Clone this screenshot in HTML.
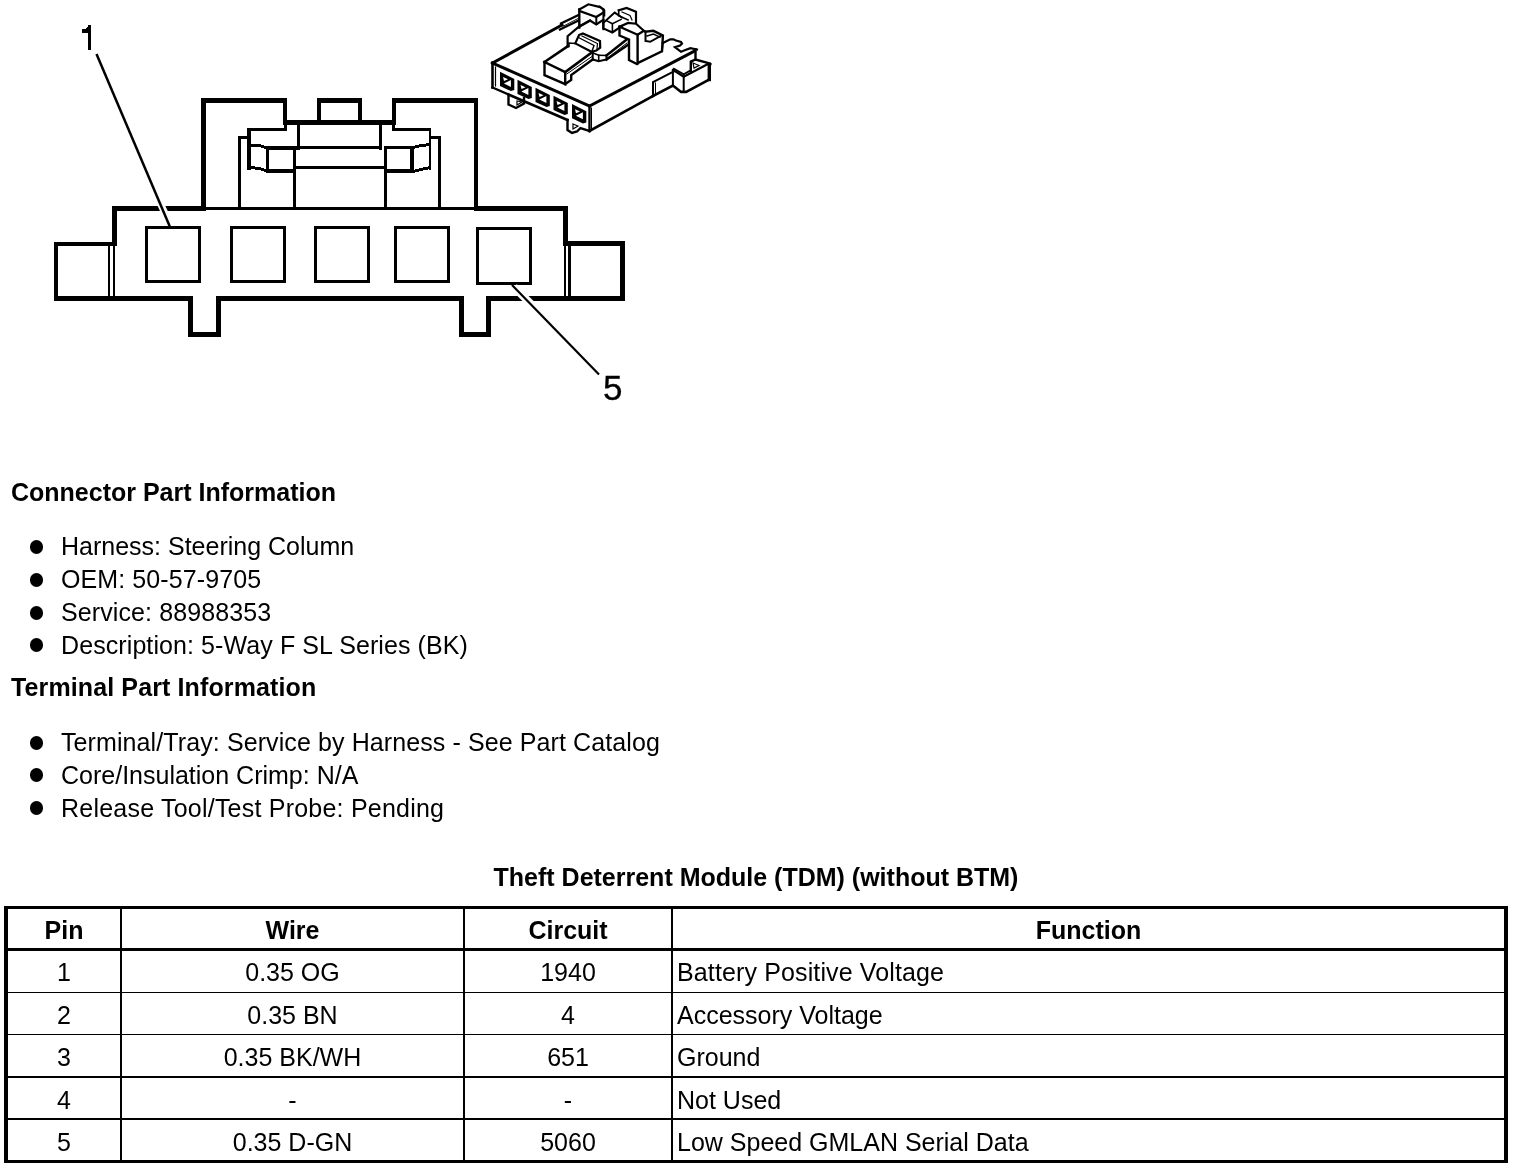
<!DOCTYPE html>
<html><head><meta charset="utf-8">
<style>
html,body{margin:0;padding:0;background:#fff;}
body{width:1520px;height:1168px;position:relative;overflow:hidden;-webkit-font-smoothing:antialiased;font-family:"Liberation Sans",sans-serif;color:#000;}
.t{position:absolute;white-space:nowrap;font-size:25px;line-height:normal;will-change:transform;}
.b{font-weight:bold;}
.c{text-align:center;}
.dot{position:absolute;width:13.5px;height:13.5px;border-radius:50%;background:#000;left:29.8px;}
.ln{position:absolute;background:#000;}
svg{position:absolute;left:0;top:0;}
</style></head><body>

<!-- DRAWING -->
<svg id="face" width="720" height="420" viewBox="0 0 720 420">
<g shape-rendering="crispEdges" fill="#000">
<rect x="201" y="98" width="5" height="113"/>
<rect x="201" y="98" width="86" height="5"/>
<rect x="283" y="98" width="4" height="27"/>
<rect x="283" y="120" width="113" height="5"/>
<rect x="317" y="98" width="4" height="27"/>
<rect x="317" y="98" width="45" height="5"/>
<rect x="358" y="98" width="4" height="27"/>
<rect x="392" y="98" width="4" height="27"/>
<rect x="392" y="98" width="86" height="5"/>
<rect x="474" y="98" width="4" height="113"/>
<rect x="284" y="123" width="3" height="8"/>
<rect x="247" y="128" width="40" height="3"/>
<rect x="247" y="128" width="4" height="42"/>
<rect x="238" y="136" width="13" height="3"/>
<rect x="238" y="136" width="3" height="74"/>
<rect x="266" y="146" width="31" height="4"/>
<rect x="266" y="146" width="3" height="27"/>
<rect x="266" y="169" width="29" height="4"/>
<rect x="293" y="146" width="3" height="64"/>
<rect x="297" y="124" width="3" height="26"/>
<rect x="297" y="146" width="85" height="3"/>
<rect x="379" y="124" width="3" height="26"/>
<rect x="296" y="166" width="89" height="3"/>
<rect x="384" y="146" width="3" height="64"/>
<rect x="384" y="146" width="30" height="3"/>
<rect x="410" y="146" width="4" height="27"/>
<rect x="384" y="169" width="30" height="4"/>
<rect x="429" y="128" width="2" height="42"/>
<rect x="392" y="128" width="39" height="3"/>
<rect x="392" y="123" width="3" height="8"/>
<rect x="438" y="136" width="3" height="74"/>
<rect x="430" y="136" width="11" height="3"/>
<rect x="112" y="206" width="94" height="5"/>
<rect x="205" y="207" width="273" height="3"/>
<rect x="477" y="206" width="91" height="5"/>
<rect x="112" y="206" width="5" height="40"/>
<rect x="54" y="242" width="63" height="4"/>
<rect x="54" y="242" width="4" height="59"/>
<rect x="54" y="296" width="139" height="5"/>
<rect x="188" y="296" width="5" height="41"/>
<rect x="188" y="332" width="33" height="5"/>
<rect x="216" y="296" width="5" height="41"/>
<rect x="216" y="296" width="248" height="5"/>
<rect x="459" y="296" width="5" height="41"/>
<rect x="459" y="332" width="32" height="5"/>
<rect x="486" y="296" width="5" height="41"/>
<rect x="486" y="296" width="139" height="5"/>
<rect x="563" y="206" width="5" height="40"/>
<rect x="563" y="241" width="62" height="5"/>
<rect x="620" y="241" width="5" height="60"/>
<rect x="108" y="245" width="2" height="52"/>
<rect x="113" y="245" width="2" height="52"/>
<rect x="564" y="245" width="2" height="52"/>
<rect x="568" y="245" width="3" height="52"/>
<rect x="146.5" y="227.5" width="53" height="54" fill="none" stroke="#000" stroke-width="3"/>
<rect x="231.5" y="227.5" width="53" height="54" fill="none" stroke="#000" stroke-width="3"/>
<rect x="315.5" y="227.5" width="53" height="54" fill="none" stroke="#000" stroke-width="3"/>
<rect x="395.5" y="227.5" width="53" height="54" fill="none" stroke="#000" stroke-width="3"/>
<rect x="477.5" y="228.5" width="53" height="55" fill="none" stroke="#000" stroke-width="3"/>
<polygon points="251,144 259,144 266,146 266,149 259,147 251,147"/>
<polygon points="251,166 259,167 266,169 266,172 259,170 251,169"/>
<polygon points="413,146 421,144 430,143 430,146 421,147 413,149"/>
<polygon points="413,170 421,168 430,166 430,169 421,171 413,173"/>

</g>
<g shape-rendering="auto">
<line x1="155" y1="192" x2="169" y2="222" stroke="#fff" stroke-width="7"/>
<line x1="96.5" y1="54" x2="170" y2="227" stroke="#000" stroke-width="2.5"/>
<line x1="514" y1="287" x2="537" y2="310" stroke="#fff" stroke-width="8"/>
<line x1="512" y1="285" x2="599" y2="374.5" stroke="#000" stroke-width="2.2"/>
</g>
<g id="iso"><g fill="none" stroke="#000" stroke-linejoin="miter" stroke-linecap="square">
<polyline points="492.5,63.0 589.5,106.0" stroke-width="3"/>
<polyline points="492.5,63.0 492.5,87.5" stroke-width="2.6"/>
<polyline points="495.5,67.0 495.5,86.0" stroke-width="1.2"/>
<polyline points="492.5,87.5 508.5,94.5 508.5,104.5 516.0,108.0 524.0,103.5 524.0,98.0" stroke-width="2.4"/>
<polyline points="508.5,94.5 567.5,120.0" stroke-width="2.6"/>
<polyline points="567.5,120.0 567.5,130.0 572.0,133.0 577.0,131.5 580.5,128.0 589.5,131.0" stroke-width="2.4"/>
<polyline points="589.5,106.0 589.5,131.0" stroke-width="2.4"/>
<polyline points="591.5,108.0 591.5,129.0" stroke-width="1.0"/>
<polygon points="517.0,101.0 522.0,102.0 517.0,105.0" stroke-width="1.2"/>
<polygon points="573.0,124.0 578.0,126.0 573.0,129.0" stroke-width="1.2"/>
<polygon points="500.0,71.7 514.3,78.9 514.3,90.1 511.0,91.1 500.0,86.0" fill="#000" stroke="none"/>
<polygon points="503.9,83.5 510.9,80.0 510.9,87.0" fill="#fff" stroke="none"/>
<polygon points="503.0,77.0 508.0,79.3 504.0,81.0" fill="#fff" stroke="none"/>
<polygon points="517.5,79.7 531.8,86.9 531.8,98.1 528.5,99.1 517.5,94.0" fill="#000" stroke="none"/>
<polygon points="521.4,91.5 528.4,88.0 528.4,95.0" fill="#fff" stroke="none"/>
<polygon points="520.5,85.0 525.5,87.3 521.5,89.0" fill="#fff" stroke="none"/>
<polygon points="535.5,87.7 549.8,94.9 549.8,106.1 546.5,107.1 535.5,102.0" fill="#000" stroke="none"/>
<polygon points="539.4,99.5 546.4,96.0 546.4,103.0" fill="#fff" stroke="none"/>
<polygon points="538.5,93.0 543.5,95.3 539.5,97.0" fill="#fff" stroke="none"/>
<polygon points="553.5,95.7 567.8,102.9 567.8,114.1 564.5,115.1 553.5,110.0" fill="#000" stroke="none"/>
<polygon points="557.4,107.5 564.4,104.0 564.4,111.0" fill="#fff" stroke="none"/>
<polygon points="556.5,101.0 561.5,103.3 557.5,105.0" fill="#fff" stroke="none"/>
<polygon points="572.0,104.0 586.3,111.2 586.3,122.4 583.0,123.4 572.0,118.3" fill="#000" stroke="none"/>
<polygon points="575.9,115.8 582.9,112.3 582.9,119.3" fill="#fff" stroke="none"/>
<polygon points="575.0,109.3 580.0,111.6 576.0,113.3" fill="#fff" stroke="none"/>
<polyline points="589.5,106.0 694.5,51.0" stroke-width="3"/>
<polyline points="589.5,131.0 653.0,96.0" stroke-width="2.6"/>
<polyline points="653.0,96.0 653.0,82.0 673.5,71.5" stroke-width="2.0"/>
<polyline points="655.5,95.0 655.5,83.0" stroke-width="1.0"/>
<polyline points="653.0,96.0 672.9,85.5 681.1,91.9 686.2,91.9 709.3,79.5" stroke-width="2.6"/>
<polyline points="709.3,64.1 709.3,79.5" stroke-width="3.4"/>
<polyline points="672.9,70.3 672.9,86.0" stroke-width="2.0"/>
<polyline points="683.7,75.5 683.7,91.0" stroke-width="2.0"/>
<polyline points="673.0,70.0 683.7,76.8 707.0,64.5" stroke-width="2.2"/>
<polyline points="674.0,68.8 683.7,74.3 690.8,70.3" stroke-width="1.8"/>
<polyline points="690.8,71.0 690.8,61.6 695.5,59.5 706.8,62.6 710.4,64.1" stroke-width="2.4"/>
<polygon points="693.0,63.0 699.0,65.5 694.0,68.0" stroke-width="1.2"/>
<polyline points="695.5,49.2 695.5,59.5" stroke-width="2.4"/>
<polyline points="697.0,49.5 690.4,48.2 684.7,50.3 681.0,51.8 675.0,47.2 680.0,45.6 682.0,43.6 681.0,42.0 676.0,40.5 673.4,39.3 670.3,39.3 662.8,43.1" stroke-width="2.2"/>
<polyline points="492.5,63.0 562.0,25.0" stroke-width="3"/>
<polyline points="561.0,25.0 561.0,23.5 578.5,15.0" stroke-width="2.4"/>
<polyline points="560.0,29.5 578.5,20.5" stroke-width="2.4"/>
<polyline points="563.0,26.3 578.0,18.5" stroke-width="0.9"/>
<polyline points="579.3,9.5 579.3,27.6" stroke-width="2.4"/>
<polyline points="579.3,9.5 588.4,4.3 600.2,7.1 603.4,9.5" stroke-width="2.2"/>
<polyline points="580.5,11.4 596.3,17.0 603.4,12.6" stroke-width="2.2"/>
<polyline points="596.3,17.0 596.3,23.7" stroke-width="2.0"/>
<polyline points="580.0,26.0 590.0,20.5 596.3,24.5 603.4,19.7" stroke-width="2.2"/>
<polyline points="603.4,9.5 603.4,29.2" stroke-width="2.0"/>
<polyline points="599.7,6.3 604.5,10.3 604.5,15.8" stroke-width="1.6"/>
<polyline points="603.3,22.9 603.3,28.4 612.4,32.4 621.8,26.0" stroke-width="2.2"/>
<polyline points="603.3,22.9 614.7,12.6 621.8,17.4" stroke-width="2.0"/>
<polyline points="607.0,21.0 612.4,23.7 612.4,31.6" stroke-width="1.6"/>
<polyline points="612.4,23.7 621.0,19.5" stroke-width="1.6"/>
<polyline points="618.7,10.3 626.6,7.9 636.0,11.8 636.0,22.9" stroke-width="2.2"/>
<polyline points="618.7,10.3 618.7,15.8 628.0,20.0" stroke-width="1.6"/>
<polyline points="622.0,12.0 630.0,15.5 632.0,20.0" stroke-width="1.2"/>
<polyline points="619.5,26.8 628.1,22.9 636.0,23.7 643.9,30.8 637.6,34.7 619.5,26.8" stroke-width="2.2"/>
<polyline points="619.5,26.8 619.5,35.5 629.0,39.5 629.0,60.0 636.8,64.0" stroke-width="2.4"/>
<polyline points="637.6,34.7 637.6,63.5" stroke-width="2.4"/>
<polyline points="643.9,30.8 645.5,31.6 645.5,41.0 650.2,41.8 661.3,35.5" stroke-width="2.0"/>
<polyline points="645.5,31.6 653.4,30.8 662.9,35.5 662.0,51.3 639.2,62.4" stroke-width="2.4"/>
<polyline points="647.0,36.0 653.4,34.0 660.0,37.0" stroke-width="1.4"/>
<polyline points="662.0,51.3 663.0,42.6" stroke-width="1.6"/>
<polyline points="544.5,62.0 565.2,72.1 565.2,84.1 544.5,75.1 544.5,62.0" stroke-width="2.4"/>
<polyline points="544.5,62.0 567.6,46.4" stroke-width="2.6"/>
<polyline points="567.6,46.4 567.6,36.2 578.3,27.2 590.0,20.5" stroke-width="2.2"/>
<polyline points="565.2,72.1 590.3,53.5" stroke-width="2.6"/>
<polyline points="566.8,74.0 592.0,56.5" stroke-width="1.0"/>
<polyline points="565.2,84.1 571.2,79.9 571.2,75.1 592.7,59.5" stroke-width="2.4"/>
<polyline points="592.7,53.5 592.7,59.5 598.7,61.3 606.5,59.5 606.5,55.5" stroke-width="2.0"/>
<polyline points="592.0,52.5 598.7,55.3 598.7,61.3" stroke-width="1.6"/>
<polyline points="598.7,55.3 606.5,55.5" stroke-width="1.4"/>
<polyline points="606.5,55.5 626.3,39.8" stroke-width="2.6"/>
<polyline points="607.5,58.0 627.0,43.0" stroke-width="1.0"/>
<polyline points="606.5,59.5 627.5,45.2" stroke-width="2.4"/>
<polyline points="575.3,43.4 579.0,35.0 582.8,33.5 600.0,41.0 600.2,47.6 596.3,50.6 591.5,51.8 575.3,43.4" stroke-width="2.2"/>
<polyline points="582.0,36.0 597.5,43.5 597.0,48.5" stroke-width="1.2"/>
<polyline points="579.5,38.0 594.0,45.5 592.0,51.0" stroke-width="1.4"/>
<polyline points="567.6,46.4 569.0,46.4 569.0,43.0 575.3,43.4" stroke-width="1.6"/>
</g>
</g>
</svg>

<!-- LABELS -->
<svg width="120" height="60" style="left:0;top:0"><polygon points="81.9,29 85.7,29 88,26.5 88,25 91,25 91,49.5 88,49.5 88,32.8 81.9,32.8" fill="#000" shape-rendering="crispEdges"/></svg>
<div class="t" style="font-size:35px;left:603px;top:368px;-webkit-text-stroke:0.3px #000">5</div>

<!-- CONNECTOR INFO -->
<div class="t b" style="left:11px;top:478px">Connector Part Information</div>
<div class="dot" style="top:540px"></div><div class="t" style="left:61px;top:532px">Harness: Steering Column</div>
<div class="dot" style="top:573px"></div><div class="t" style="letter-spacing:0.1px;left:61px;top:565px">OEM: 50-57-9705</div>
<div class="dot" style="top:606px"></div><div class="t" style="letter-spacing:0.1px;left:61px;top:598px">Service: 88988353</div>
<div class="dot" style="top:638px"></div><div class="t" style="letter-spacing:0.09px;left:61px;top:631px">Description: 5-Way F SL Series (BK)</div>

<div class="t b" style="letter-spacing:0.12px;left:11px;top:673px">Terminal Part Information</div>
<div class="dot" style="top:736px"></div><div class="t" style="letter-spacing:0.1px;left:61px;top:728px">Terminal/Tray: Service by Harness - See Part Catalog</div>
<div class="dot" style="top:768px"></div><div class="t" style="left:61px;top:761px">Core/Insulation Crimp: N/A</div>
<div class="dot" style="top:801px"></div><div class="t" style="letter-spacing:0.22px;left:61px;top:794px">Release Tool/Test Probe: Pending</div>

<!-- TABLE TITLE -->
<div class="t b c" style="left:256px;width:1000px;top:863px">Theft Deterrent Module (TDM) (without BTM)</div>

<!-- TABLE LINES -->
<div class="ln" style="left:4px;top:906px;width:1504px;height:3px"></div>
<div class="ln" style="left:4px;top:948px;width:1504px;height:3px"></div>
<div class="ln" style="left:4px;top:992px;width:1504px;height:1px"></div>
<div class="ln" style="left:4px;top:1034px;width:1504px;height:1px"></div>
<div class="ln" style="left:4px;top:1076px;width:1504px;height:2px"></div>
<div class="ln" style="left:4px;top:1118px;width:1504px;height:2px"></div>
<div class="ln" style="left:4px;top:1160px;width:1504px;height:3px"></div>
<div class="ln" style="left:4px;top:906px;width:4px;height:257px"></div>
<div class="ln" style="left:120px;top:906px;width:2px;height:257px"></div>
<div class="ln" style="left:463px;top:906px;width:2px;height:257px"></div>
<div class="ln" style="left:671px;top:906px;width:2px;height:257px"></div>
<div class="ln" style="left:1504px;top:906px;width:4px;height:257px"></div>

<!-- HEADER -->
<div class="t b c" style="left:8px;width:112px;top:916px">Pin</div>
<div class="t b c" style="left:122px;width:341px;top:916px">Wire</div>
<div class="t b c" style="left:465px;width:206px;top:916px">Circuit</div>
<div class="t b c" style="left:673px;width:831px;top:916px">Function</div>

<!-- ROWS -->
<div class="t c" style="left:8px;width:112px;top:958px">1</div>
<div class="t c" style="left:122px;width:341px;top:958px">0.35 OG</div>
<div class="t c" style="left:465px;width:206px;top:958px">1940</div>
<div class="t" style="letter-spacing:0.13px;left:677px;top:958px">Battery Positive Voltage</div>

<div class="t c" style="left:8px;width:112px;top:1001px">2</div>
<div class="t c" style="left:122px;width:341px;top:1001px">0.35 BN</div>
<div class="t c" style="left:465px;width:206px;top:1001px">4</div>
<div class="t" style="left:677px;top:1001px">Accessory Voltage</div>

<div class="t c" style="left:8px;width:112px;top:1043px">3</div>
<div class="t c" style="left:122px;width:341px;top:1043px">0.35 BK/WH</div>
<div class="t c" style="left:465px;width:206px;top:1043px">651</div>
<div class="t" style="left:677px;top:1043px">Ground</div>

<div class="t c" style="left:8px;width:112px;top:1086px">4</div>
<div class="t c" style="left:122px;width:341px;top:1086px">-</div>
<div class="t c" style="left:465px;width:206px;top:1086px">-</div>
<div class="t" style="left:677px;top:1086px">Not Used</div>

<div class="t c" style="left:8px;width:112px;top:1128px">5</div>
<div class="t c" style="left:122px;width:341px;top:1128px">0.35 D-GN</div>
<div class="t c" style="left:465px;width:206px;top:1128px">5060</div>
<div class="t" style="left:677px;top:1128px">Low Speed GMLAN Serial Data</div>

</body></html>
